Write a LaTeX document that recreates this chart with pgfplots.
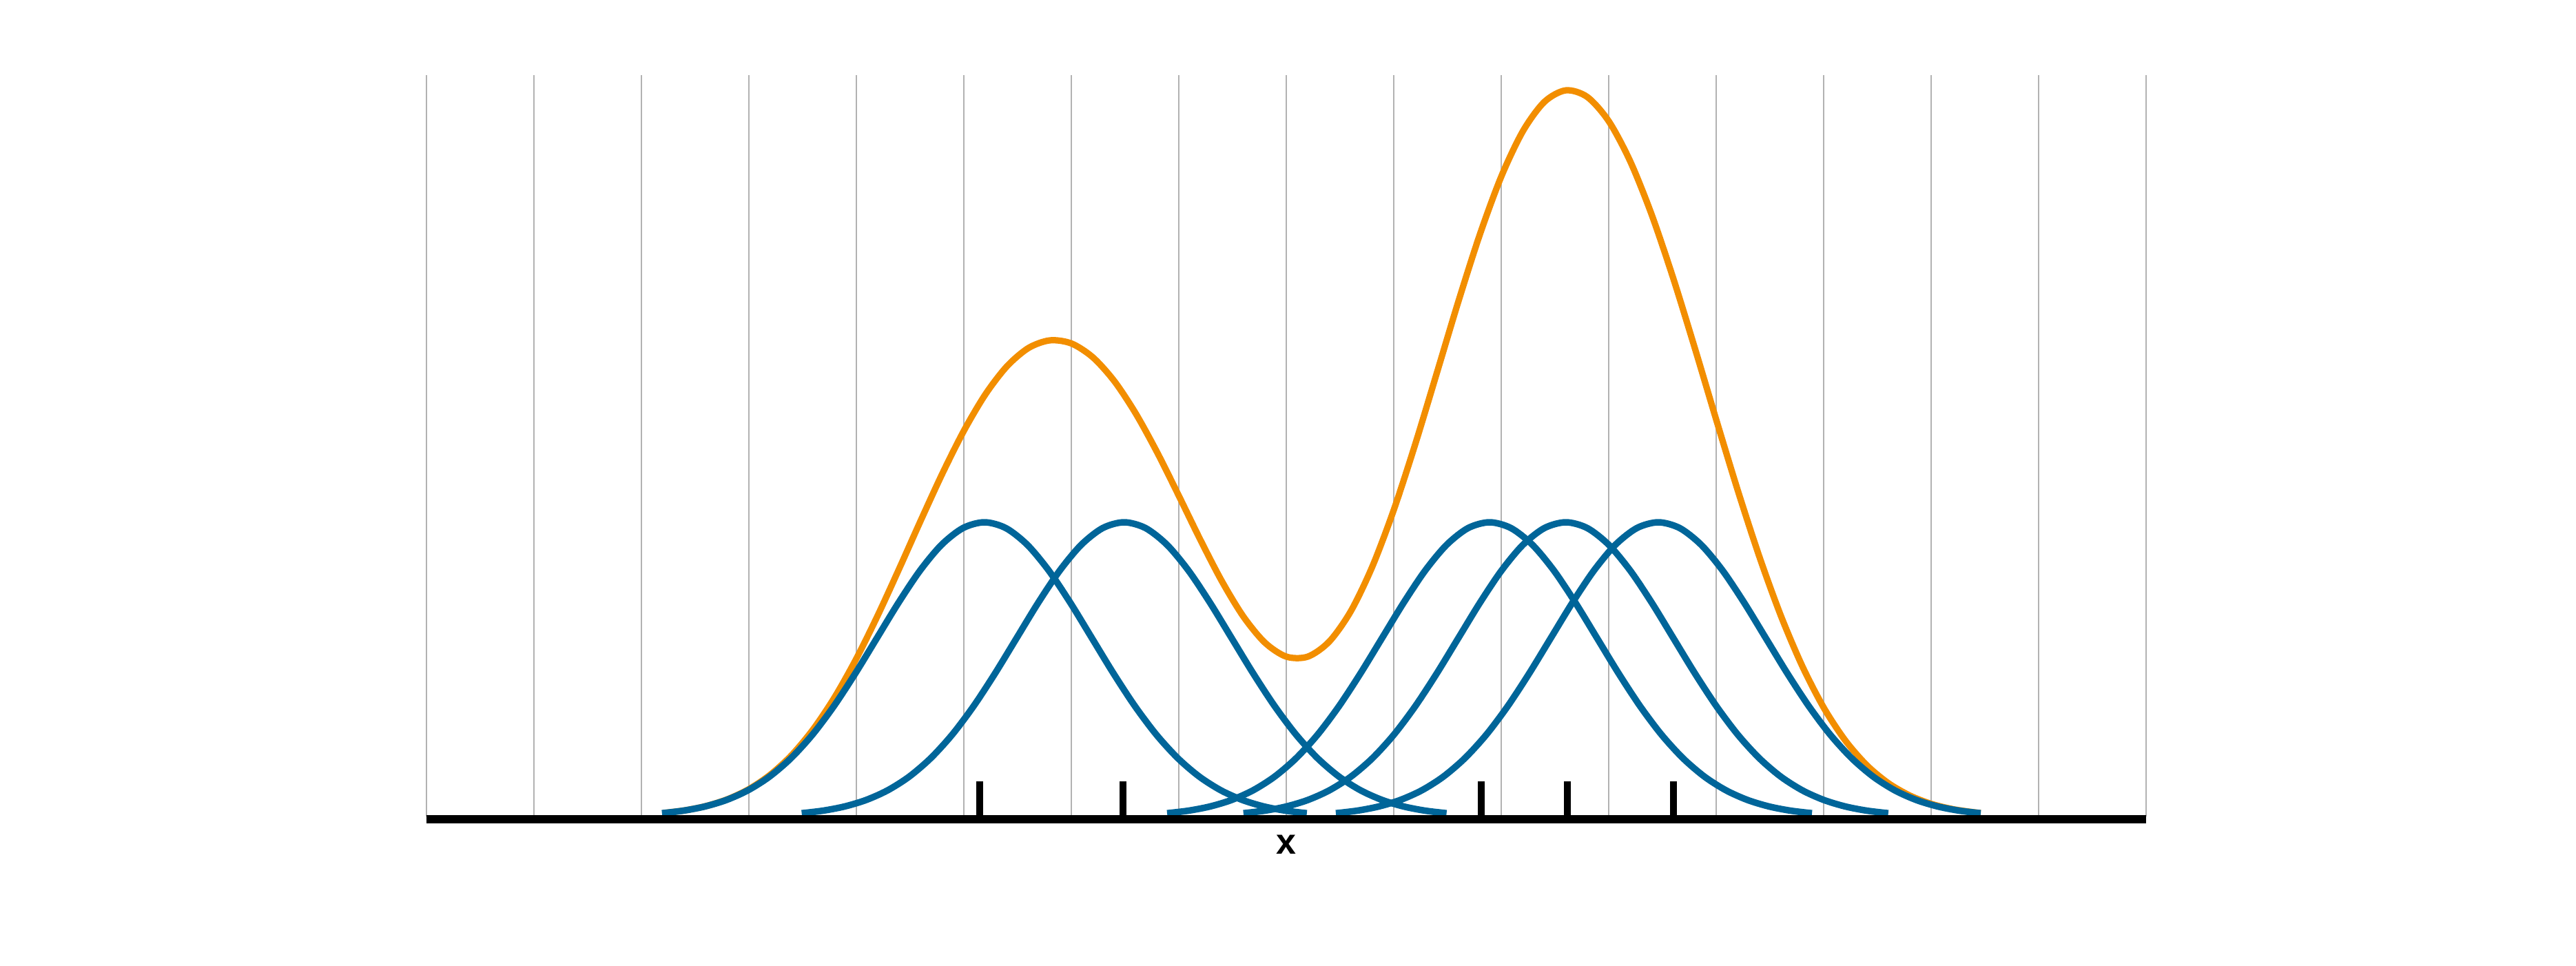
\documentclass[border=0pt]{standalone}
\usepackage{pgfplots}
\pgfplotsset{compat=1.18}
\usepackage{pgfplotstable}
\usepackage{fontspec}
\setsansfont{Liberation Sans}
\definecolor{kblue}{RGB}{0,101,153}
\definecolor{korange}{RGB}{242,142,0}
\definecolor{kgrid}{RGB}{178,178,178}

\pgfplotstableread{
k x1 x2 x3 x4 x5
0.0111 -5.81 -4.51 -1.11 -0.40 0.46
0.0198 -5.61 -4.31 -0.91 -0.20 0.66
0.0340 -5.41 -4.11 -0.71 0.00 0.86
0.0561 -5.21 -3.91 -0.51 0.20 1.06
0.0889 -5.01 -3.71 -0.31 0.40 1.26
0.1353 -4.81 -3.51 -0.11 0.60 1.46
0.1979 -4.61 -3.31 0.09 0.80 1.66
0.2780 -4.41 -3.11 0.29 1.00 1.86
0.3753 -4.21 -2.91 0.49 1.20 2.06
0.4868 -4.01 -2.71 0.69 1.40 2.26
0.6065 -3.81 -2.51 0.89 1.60 2.46
0.7261 -3.61 -2.31 1.09 1.80 2.66
0.8353 -3.41 -2.11 1.29 2.00 2.86
0.9231 -3.21 -1.91 1.49 2.20 3.06
0.9802 -3.01 -1.71 1.69 2.40 3.26
1.0000 -2.81 -1.51 1.89 2.60 3.46
0.9802 -2.61 -1.31 2.09 2.80 3.66
0.9231 -2.41 -1.11 2.29 3.00 3.86
0.8353 -2.21 -0.91 2.49 3.20 4.06
0.7261 -2.01 -0.71 2.69 3.40 4.26
0.6065 -1.81 -0.51 2.89 3.60 4.46
0.4868 -1.61 -0.31 3.09 3.80 4.66
0.3753 -1.41 -0.11 3.29 4.00 4.86
0.2780 -1.21 0.09 3.49 4.20 5.06
0.1979 -1.01 0.29 3.69 4.40 5.26
0.1353 -0.81 0.49 3.89 4.60 5.46
0.0889 -0.61 0.69 4.09 4.80 5.66
0.0561 -0.41 0.89 4.29 5.00 5.86
0.0340 -0.21 1.09 4.49 5.20 6.06
0.0198 -0.01 1.29 4.69 5.40 6.26
0.0111 0.19 1.49 4.89 5.60 6.46
}\kernels

\pgfplotstableread{
x s
-5.80 0.0115
-5.60 0.0206
-5.40 0.0354
-5.20 0.0586
-5.00 0.0932
-4.80 0.1426
-4.60 0.2099
-4.40 0.2979
-4.20 0.4074
-4.00 0.5376
-3.80 0.6853
-3.60 0.8446
-3.40 1.0079
-3.20 1.1665
-3.00 1.3117
-2.80 1.4352
-2.60 1.5303
-2.40 1.5924
-2.20 1.6184
-2.00 1.6077
-1.80 1.5604
-1.60 1.4792
-1.40 1.3686
-1.20 1.2358
-1.00 1.0893
-0.80 0.9399
-0.60 0.7993
-0.40 0.6793
-0.20 0.5908
0.00 0.5432
0.20 0.5434
0.40 0.5950
0.60 0.6982
0.80 0.8500
1.00 1.0431
1.20 1.2670
1.40 1.5080
1.60 1.7505
1.80 1.9784
2.00 2.1759
2.20 2.3292
2.40 2.4289
2.60 2.4682
2.80 2.4455
3.00 2.3628
3.20 2.2261
3.40 2.0441
3.60 1.8285
3.80 1.5920
4.00 1.3476
4.20 1.1079
4.40 0.8837
4.60 0.6828
4.80 0.5109
5.00 0.3695
5.20 0.2583
5.40 0.1742
5.60 0.1134
5.80 0.0712
6.00 0.0428
6.20 0.0249
6.40 0.0140
6.46 0.0116
}\density

\begin{document}
\begin{tikzpicture}
\useasboundingbox (0,0) rectangle (747.8pt,280.4pt);
\begin{axis}[
  at={(123.84pt,43.4pt)}, anchor=south west,
  scale only axis, width=499.2pt, height=215.2pt,
  xmin=-8, xmax=8, ymin=0, ymax=2.52,
  xtick={-8,...,8}, xticklabels={}, ytick=\empty,
  xmajorgrids, grid style={kgrid, line width=0.4pt},
  major tick length=0pt,
  axis line style={draw=none},
  clip=false,
]
\addplot[korange, line width=1.85pt, line join=round, smooth, mark=none] table[x=x, y=s] {\density};
\addplot[kblue, line width=1.9pt, line join=round, smooth, mark=none] table[x=x1, y=k] {\kernels};
\addplot[kblue, line width=1.9pt, line join=round, smooth, mark=none] table[x=x2, y=k] {\kernels};
\addplot[kblue, line width=1.9pt, line join=round, smooth, mark=none] table[x=x3, y=k] {\kernels};
\addplot[kblue, line width=1.9pt, line join=round, smooth, mark=none] table[x=x4, y=k] {\kernels};
\addplot[kblue, line width=1.9pt, line join=round, smooth, mark=none] table[x=x5, y=k] {\kernels};
\draw[black, line width=2.4pt] ([yshift=-0.9pt]axis cs:-8,0) -- ([yshift=-0.9pt]axis cs:8,0);
\addplot[black, line width=2pt, mark=none] coordinates {(-2.853,0) (-2.853,0.12)};
\addplot[black, line width=2pt, mark=none] coordinates {(-1.519,0) (-1.519,0.12)};
\addplot[black, line width=2pt, mark=none] coordinates {(1.814,0) (1.814,0.12)};
\addplot[black, line width=2pt, mark=none] coordinates {(2.615,0) (2.615,0.12)};
\addplot[black, line width=2pt, mark=none] coordinates {(3.603,0) (3.603,0.12)};
\node[font=\sffamily\bfseries\fontsize{10.4}{12}\selectfont, inner sep=0pt, anchor=center] at ([yshift=-8.2pt]axis cs:0,0) {x};
\end{axis}
\end{tikzpicture}
\end{document}
